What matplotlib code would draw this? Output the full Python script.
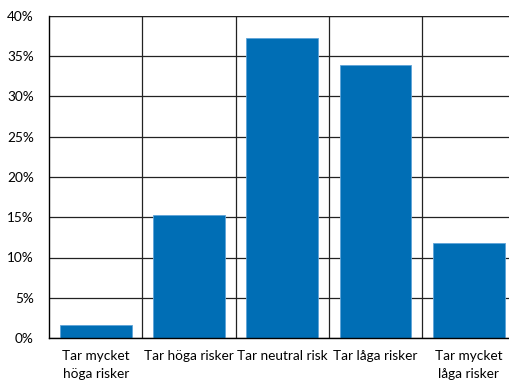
import matplotlib
matplotlib.use("Agg")
import matplotlib.pyplot as plt
from matplotlib.ticker import MultipleLocator, FuncFormatter

categories = ["Tar mycket\nhöga risker", "Tar höga risker", "Tar neutral risk",
              "Tar låga risker", "Tar mycket\nlåga risker"]
shares = [1.65, 15.25, 37.3, 33.9, 11.8]

plt.rcParams['font.family'] = ['Lato', 'DejaVu Sans']

fig = plt.figure(figsize=(5.09, 3.82), dpi=100)
W, H = 509, 382
left, right, top, bottom = 49, 515.5, 16, 338
ax = fig.add_axes([left / W, 1 - bottom / H, (right - left) / W, (bottom - top) / H])

x = range(len(categories))
ax.bar(x, shares, width=0.77, color="#006EB5", edgecolor="#5EA4D8", linewidth=0.6, zorder=3)

ax.set_xlim(-0.5, len(categories) - 0.5)
ax.set_ylim(0, 40)
ax.yaxis.set_major_locator(MultipleLocator(5))
ax.yaxis.set_major_formatter(FuncFormatter(lambda v, _: f"{v:.0f}%"))

# horizontal gridlines on every 5 %, vertical separators between categories
ax.grid(axis="y", color="#222222", linewidth=0.9, zorder=1)
for b in [i + 0.5 for i in range(len(categories) - 1)]:
    ax.axvline(b, color="#222222", linewidth=0.9, zorder=1)
ax.axhline(40, color="#222222", linewidth=0.9, zorder=1)

ax.set_xticks(list(x))
ax.set_xticklabels(categories, fontsize=9.8, linespacing=1.5)
ax.tick_params(axis="x", length=0, pad=9)
ax.tick_params(axis="y", length=0, pad=11, labelsize=9.8)

for s in ["top", "right"]:
    ax.spines[s].set_visible(False)
for s in ["left", "bottom"]:
    ax.spines[s].set_color("#000000")
    ax.spines[s].set_linewidth(1.0)
    ax.spines[s].set_zorder(4)

fig.savefig("out.png", dpi=100)
